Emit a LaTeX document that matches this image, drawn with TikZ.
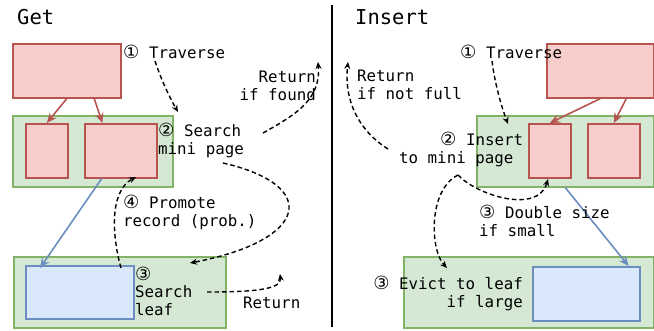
\documentclass[tikz,border=0pt]{standalone}
\usepackage{fontspec}
\setmainfont{DejaVu Sans Mono}
\newfontfamily\circfont{DejaVu Sans}
\newcommand{\circnum}[1]{{\circfont\scalebox{1.15}{#1}}}
\usetikzlibrary{arrows.meta,calc}

\definecolor{redfill}{HTML}{F8CECC}
\definecolor{redline}{HTML}{B85450}
\definecolor{greenfill}{HTML}{D5E8D4}
\definecolor{greenline}{HTML}{82B366}
\definecolor{bluefill}{HTML}{DAE8FC}
\definecolor{blueline}{HTML}{6C8EBF}

\tikzset{
  redbox/.style={draw=redline, fill=redfill, line width=1.6pt, inner sep=0pt, anchor=north west},
  greenbox/.style={draw=greenline, fill=greenfill, line width=1.6pt, inner sep=0pt, anchor=north west},
  bluebox/.style={draw=blueline, fill=bluefill, line width=1.6pt, inner sep=0pt, anchor=north west},
  lbl/.style={inner sep=0pt, font=\fontsize{15.8}{17.5}\selectfont},
  heading/.style={inner sep=0pt, font=\fontsize{20.5}{24}\selectfont},
  dflow/.style={line width=1.4pt, dash pattern=on 4.5pt off 3pt, -{Stealth[length=7pt,width=6pt]}},
  redarrow/.style={draw=redline, line width=1.6pt, -{Stealth[length=10pt,width=8.5pt]}},
  bluearrow/.style={draw=blueline, line width=1.6pt, -{Stealth[length=10pt,width=8.5pt]}},
}

\begin{document}
\begin{tikzpicture}[x=1pt,y=-1pt]
\useasboundingbox (0,0) rectangle (654,330);

% ---------------- Get ----------------
\node[heading, anchor=base west] (gettitle) at (17,24) {Get};

\node[redbox, minimum width=108pt, minimum height=54pt] (groot) at (12,43) {};
\node[greenbox, minimum width=160pt, minimum height=71pt] (gmini) at (12,115) {};
\node[redbox, minimum width=42pt, minimum height=54pt] (gml) at (25,123) {};
\node[redbox, minimum width=72pt, minimum height=54pt] (gmr) at (84,123) {};
\node[greenbox, minimum width=212pt, minimum height=71pt] (gleafpage) at (13,256) {};
\node[bluebox, minimum width=108pt, minimum height=53pt] (gleaf) at (25,265) {};

\draw[redarrow] (groot.south) -- (gml.north);
\draw[redarrow] ($(groot.south)!0.5!(groot.south east)$) -- ($(gmr.north west)!0.25!(gmr.north east)$);
\draw[bluearrow] ($(gmr.south west)!0.24!(gmr.south east)$) -- ($(gleaf.north west)+(15,3)$);

% labels (base anchor of a multi-line label = baseline of its last line)
\node[lbl, anchor=base west] (gtrav) at (123,58) {\circnum{①} Traverse};
\node[lbl, anchor=base east, align=right] (gret) at (316,100) {Return\\if found};
\node[lbl, anchor=base west, align=left] (gsearch) at (158,154) {\circnum{②} Search\\mini page};
\node[lbl, anchor=base west, align=left] (gpromote) at (123,226) {\circnum{④} Promote\\record (prob.)};
\node[lbl, anchor=base west, align=left] (gleaftxt) at (135,315) {\circnum{③}\\Search\\leaf};
\node[lbl, anchor=base west] (gret2) at (243,308) {Return};

\coordinate (gtravS) at (155,61);
\coordinate (gtravE) at (178,112);
\coordinate (gretS) at (263,133);
\coordinate (gretE) at (318,62);
\coordinate (gsrchS) at (223,163);
\coordinate (gsrchE) at (190,263);
\coordinate (gpromS) at (121,268);
\coordinate (gpromE) at (136,177);
\coordinate (gret2S) at (207,292);
\coordinate (gret2E) at (280,274);

\draw[dflow] (gtravS) .. controls (162,82) and (170,98) .. (gtravE);
\draw[dflow] (gretS) .. controls (295,115) and (321,100) .. (gretE);
\draw[dflow] (gsrchS) .. controls (320,185) and (310,240) .. (gsrchE);
\draw[dflow] (gpromS) .. controls (113,240) and (108,192) .. (gpromE);
\draw[dflow] (gret2S) .. controls (250,292) and (282,290) .. (gret2E);

% divider
\draw[line width=2.2pt] (332,5) -- (332,327);

% ---------------- Insert ----------------
\node[heading, anchor=base west] (institle) at (355,24) {Insert};

\node[redbox, minimum width=107pt, minimum height=54pt] (iroot) at (546,43) {};
\node[greenbox, minimum width=177pt, minimum height=71pt] (imini) at (476,115) {};
\node[redbox, minimum width=42pt, minimum height=54pt] (iml) at (528,123) {};
\node[redbox, minimum width=52pt, minimum height=54pt] (imr) at (587,123) {};
\node[greenbox, minimum width=250pt, minimum height=71pt] (ileafpage) at (403,256) {};
\node[bluebox, minimum width=107pt, minimum height=54pt] (ileaf) at (532,266) {};

\draw[redarrow] (iroot.south) -- (iml.north);
\draw[redarrow] ($(iroot.south)+(26,0)$) -- (imr.north);
\draw[bluearrow] (imini.south) -- ($(ileaf.north east)+(-12,0)$);

\node[lbl, anchor=base west] (itrav) at (460,58) {\circnum{①} Traverse};
\node[lbl, anchor=base west, align=left] (iret) at (357,99) {Return\\if not full};
\node[lbl, anchor=base west, align=left] (iins) at (399,163) {\hspace*{41pt}\circnum{②} Insert\\to mini page};
\node[lbl, anchor=base west, align=left] (idouble) at (479,236) {\circnum{③} Double size\\if small};
\node[lbl, anchor=base east, align=right] (ievict) at (523,307) {\circnum{③} Evict to leaf\\if large};

\coordinate (itravS) at (492,61);
\coordinate (itravE) at (508,124);
\coordinate (iretS) at (388,149);
\coordinate (iretE) at (348,62);
\coordinate (isplit) at (458,175);
\coordinate (idblE) at (548,179);
\coordinate (ievE) at (447,268);

\draw[dflow] (itravS) .. controls (495,85) and (502,108) .. (itravE);
\draw[dflow] (iretS) .. controls (358,130) and (344,100) .. (iretE);
\draw[dflow] (isplit) .. controls (478,196) and (538,214) .. (idblE);
\draw[dflow] (isplit) .. controls (428,190) and (430,250) .. (ievE);
\end{tikzpicture}
\end{document}
